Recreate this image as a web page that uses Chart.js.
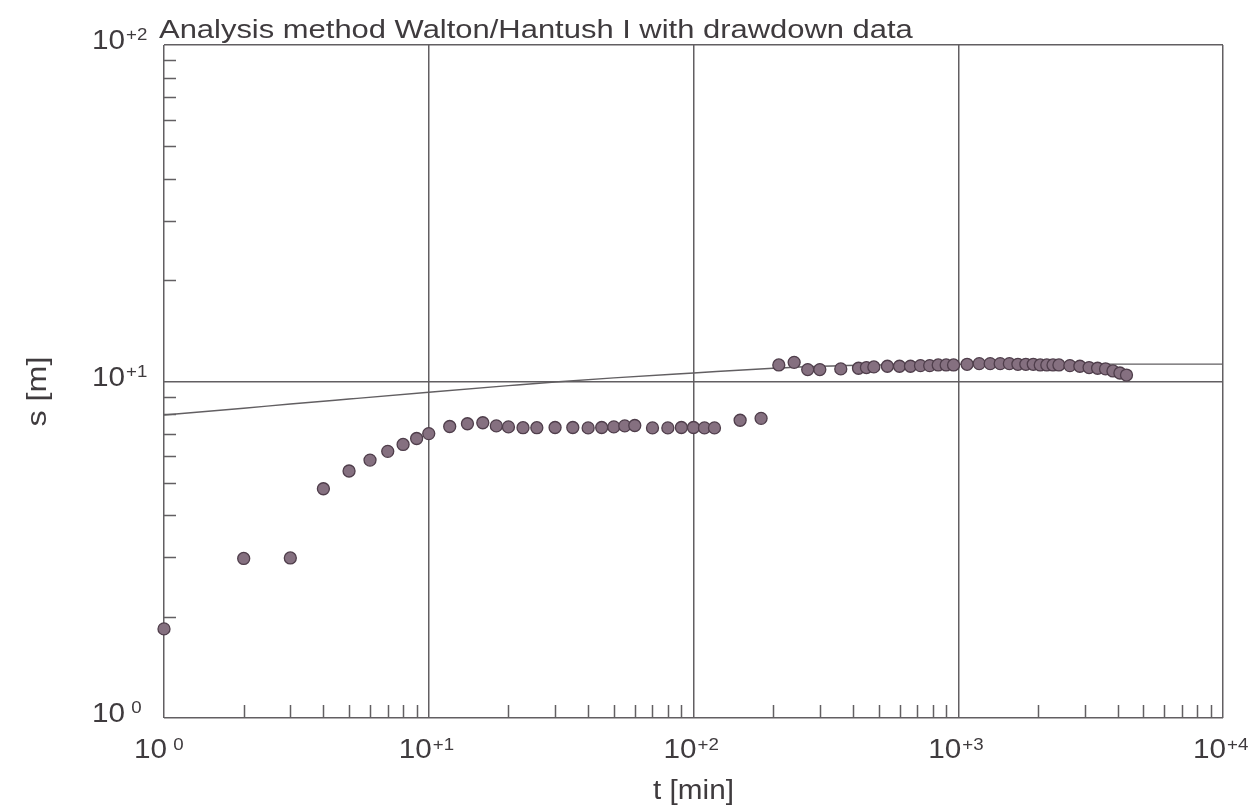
<!DOCTYPE html>
<html>
<head>
<meta charset="utf-8">
<script src="https://cdn.jsdelivr.net/npm/chart.js@4.4.1/dist/chart.umd.min.js"></script>
<style>
html, body { margin: 0; padding: 0; background: #ffffff; }
#wrap { width: 1254px; height: 810px; position: relative; }
</style>
</head>
<body>
<div id="wrap"><canvas id="c" width="1254" height="810"></canvas></div>
<script>
// ---- text ----
const titleText = 'Analysis method Walton/Hantush I with drawdown data';
const xAxisTitle = 't [min]';
const yAxisTitle = 's [m]';

// ---- axis decades / tick labels ----
const xDecades = [1, 10, 100, 1000, 10000];
const xExponents = [' 0', '+1', '+2', '+3', '+4'];
const yDecades = [1, 10, 100];
const yExponents = [' 0', '+1', '+2'];
const minorMultipliers = [2, 3, 4, 5, 6, 7, 8, 9];

// ---- observed drawdown (t in min, s in m) ----
const obsTime = [1, 2, 3, 4, 5, 6, 7, 8, 9, 10,
  12, 14, 16, 18, 20, 22.7, 25.6, 30, 35, 40, 45, 50, 55, 60,
  70, 80, 90, 100, 110, 120, 150, 180,
  210, 240, 270, 300, 360, 420, 450, 480, 540, 600,
  660, 720, 780, 840, 900, 960, 1080, 1200, 1320, 1440, 1560, 1680, 1800,
  1920, 2040, 2160, 2280, 2400, 2640, 2880, 3120, 3360, 3600, 3840, 4080, 4320];
const obsDrawdown = [1.84, 2.98, 2.99, 4.8, 5.42, 5.84, 6.2, 6.5, 6.77, 7.0,
  7.35, 7.49, 7.54, 7.38, 7.33, 7.29, 7.29, 7.3, 7.3, 7.28, 7.3, 7.33, 7.38, 7.4,
  7.28, 7.28, 7.3, 7.3, 7.28, 7.28, 7.67, 7.77,
  11.2, 11.4, 10.85, 10.85, 10.9, 10.95, 11.0, 11.05, 11.1, 11.1,
  11.1, 11.15, 11.15, 11.2, 11.2, 11.2, 11.25, 11.3, 11.3, 11.3, 11.3, 11.25, 11.25,
  11.25, 11.2, 11.2, 11.2, 11.2, 11.15, 11.1, 11.0, 10.95, 10.9, 10.75, 10.6, 10.45];

// ---- fitted type curve ----
const curveTime = [1, 2, 3, 5, 10, 20, 30, 50, 100, 200, 300, 500, 1000, 2000, 5000, 10000];
const curveDrawdown = [7.95, 8.33, 8.57, 8.87, 9.29, 9.72, 9.97, 10.25, 10.6, 10.95, 11.1, 11.2, 11.25, 11.26, 11.26, 11.26];

const FONT = '"Liberation Sans", Arial, Helvetica, sans-serif';
const TEXT_COLOR = '#3f3b3e';
const LINE_COLOR = '#625f62';

function isDecade(v) {
  if (!(v > 0)) return false;
  const l = Math.log10(v);
  return Math.abs(l - Math.round(l)) < 1e-9;
}

// draw text stretched horizontally (the reference lettering is wide)
function wideText(ctx, text, x, y, font, align, sx) {
  ctx.save();
  ctx.font = font;
  const w = ctx.measureText(text).width * sx;
  let left = x;
  if (align === 'right') left = x - w;
  else if (align === 'center') left = x - w / 2;
  ctx.translate(left, y);
  ctx.scale(sx, 1);
  ctx.textAlign = 'left';
  ctx.textBaseline = 'alphabetic';
  ctx.fillText(text, 0, 0);
  ctx.restore();
}

const obsPoints = obsTime.map((t, i) => ({ x: t, y: obsDrawdown[i] }));
const curvePoints = curveTime.map((t, i) => ({ x: t, y: curveDrawdown[i] }));

const decorPlugin = {
  id: 'decor',
  afterDraw(chart) {
    const ctx = chart.ctx;
    const xs = chart.scales.x, ys = chart.scales.y;
    const area = chart.chartArea;
    ctx.save();
    // inward minor ticks
    ctx.strokeStyle = LINE_COLOR;
    ctx.lineWidth = 1.5;
    ctx.beginPath();
    for (let d = 0; d < xDecades.length - 1; d++) {
      for (const m of minorMultipliers) {
        const px = Math.round(xs.getPixelForValue(xDecades[d] * m)) + 0.5;
        ctx.moveTo(px, area.bottom);
        ctx.lineTo(px, area.bottom - 13);
      }
    }
    for (let d = 0; d < yDecades.length - 1; d++) {
      for (const m of minorMultipliers) {
        const py = Math.round(ys.getPixelForValue(yDecades[d] * m)) + 0.5;
        ctx.moveTo(area.left, py);
        ctx.lineTo(area.left + 12, py);
      }
    }
    ctx.stroke();

    ctx.fillStyle = TEXT_COLOR;
    const big = '27px ' + FONT, small = '17px ' + FONT;
    // x tick labels
    xDecades.forEach((v, i) => {
      const px = xs.getPixelForValue(v);
      wideText(ctx, '10', px + 3, area.bottom + 40, big, 'right', 1.1);
      wideText(ctx, xExponents[i], px + 4, area.bottom + 32, small, 'left', 1.1);
    });
    // y tick labels
    yDecades.forEach((v, i) => {
      const py = ys.getPixelForValue(v);
      wideText(ctx, '10', 125, py + 4, big, 'right', 1.1);
      wideText(ctx, yExponents[i], 126, py - 5, small, 'left', 1.1);
    });
    // title
    wideText(ctx, titleText, area.left - 5, area.top - 7, '26px ' + FONT, 'left', 1.19);
    // x axis title
    wideText(ctx, xAxisTitle, xs.getPixelForValue(100), 799, big, 'center', 1.1);
    // y axis title (rotated)
    ctx.save();
    ctx.translate(46, (area.top + area.bottom) / 2 + 10);
    ctx.rotate(-Math.PI / 2);
    wideText(ctx, yAxisTitle, 0, 0, big, 'center', 1.2);
    ctx.restore();
    ctx.restore();
  }
};

const gridColor = (c) => (c.tick && isDecade(c.tick.value)) ? LINE_COLOR : 'rgba(0,0,0,0)';

new Chart(document.getElementById('c'), {
  type: 'scatter',
  data: {
    datasets: [
      {
        label: 'type curve',
        type: 'line',
        data: curvePoints,
        borderColor: LINE_COLOR,
        borderWidth: 1.4,
        pointRadius: 0,
        fill: false,
        cubicInterpolationMode: 'monotone',
        order: 2
      },
      {
        label: 'drawdown',
        data: obsPoints,
        pointRadius: 6,
        pointBackgroundColor: '#857080',
        pointBorderColor: '#4f3e4b',
        pointBorderWidth: 1.3,
        showLine: false,
        clip: false,
        order: 1
      }
    ]
  },
  options: {
    responsive: false,
    animation: false,
    events: [],
    layout: { padding: { left: 164, right: 31, top: 45, bottom: 92 } },
    plugins: { legend: { display: false }, tooltip: { enabled: false }, title: { display: false } },
    scales: {
      x: {
        type: 'logarithmic', min: 1, max: 10000,
        ticks: { display: false },
        grid: { color: gridColor, lineWidth: 1.5, drawTicks: false },
        border: { display: false }
      },
      y: {
        type: 'logarithmic', min: 1, max: 100,
        ticks: { display: false },
        grid: { color: gridColor, lineWidth: 1.5, drawTicks: false },
        border: { display: false }
      }
    }
  },
  plugins: [decorPlugin]
});
</script>
</body>
</html>
